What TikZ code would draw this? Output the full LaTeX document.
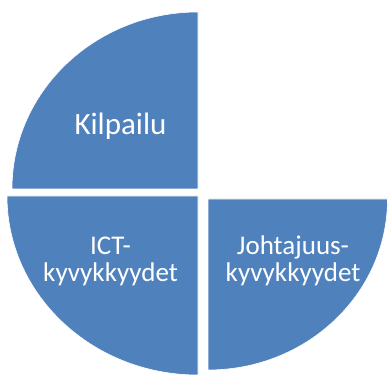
\documentclass[tikz,border=0pt]{standalone}
\usepackage{fontspec}
\setmainfont{Carlito}
\definecolor{piece}{HTML}{4F81BD}
\begin{document}
\begin{tikzpicture}[x=1pt,y=1pt,
  quarter/.style={fill=piece,draw=white,line width=0.6pt},
  lbl/.style={text=white,align=center,inner sep=0pt,anchor=base},
  big/.style={font=\fontsize{31}{33}\selectfont},
  small/.style={font=\fontsize{27}{29}\selectfont}]
\useasboundingbox (0,0) rectangle (388,379);
% top-left quarter
\path[quarter] (198,190) -- (12,190) arc[start angle=180,end angle=90,x radius=186,y radius=177] -- cycle;
% bottom-left quarter
\path[quarter] (198,183) -- (7,183) arc[start angle=180,end angle=270,x radius=191,y radius=179] -- cycle;
% bottom-right quarter
\path[quarter] (208,180) -- (387.5,180) arc[start angle=0,end angle=-90,x radius=179.5,y radius=171] -- cycle;
\node[lbl,big] (kil) at (120.5,244) {Kilpailu};
\node[lbl,small] (ict) at (110.5,97) {ICT-\\[-2pt]kyvykkyydet};
\node[lbl,small] (joh) at (293,97) {Johtajuus-\\[-2pt]kyvykkyydet};
\end{tikzpicture}
\end{document}
